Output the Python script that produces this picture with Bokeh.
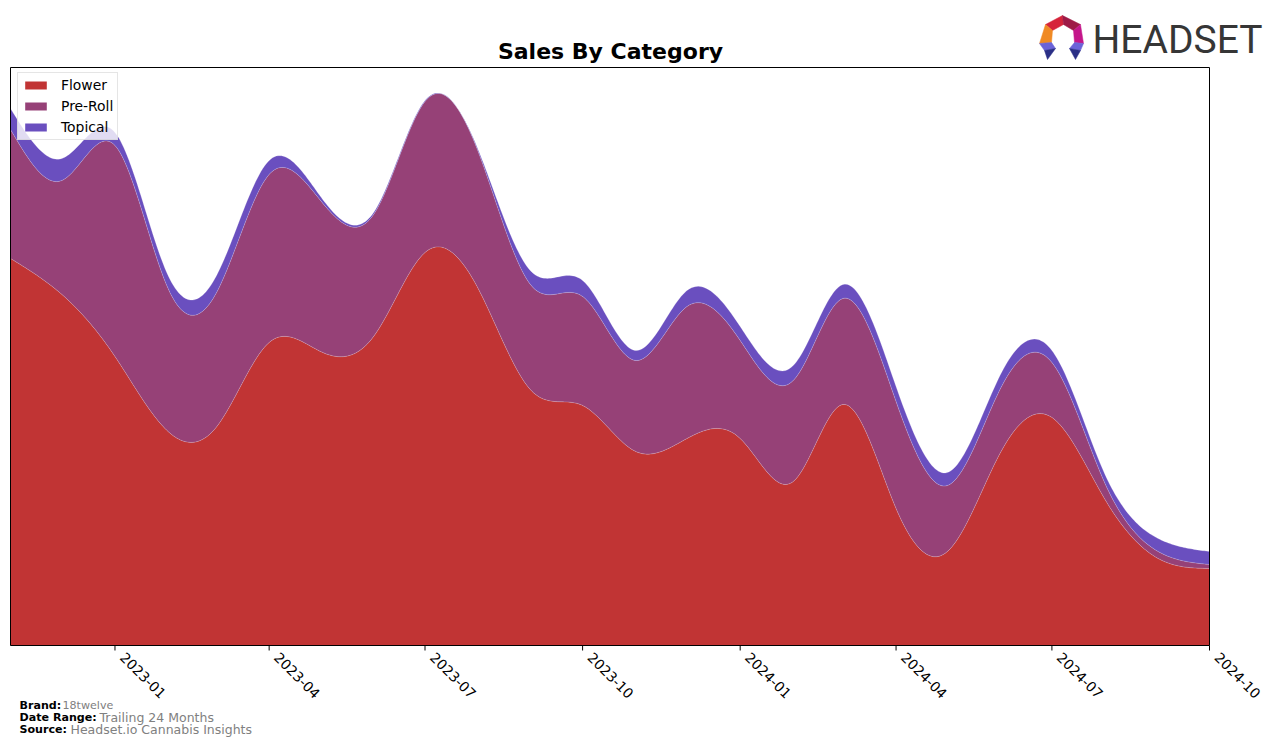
import numpy as np
import pandas as pd
from bokeh.plotting import figure
from bokeh.models import Range1d, Label, ColumnDataSource, BoxAnnotation
from bokeh.embed import file_html
from bokeh.resources import INLINE

# ---------------- data ----------------
months = ["2022-11", "2022-12", "2023-01", "2023-02", "2023-03", "2023-04",
          "2023-05", "2023-06", "2023-07", "2023-08", "2023-09", "2023-10",
          "2023-11", "2023-12", "2024-01", "2024-02", "2024-03", "2024-04",
          "2024-05", "2024-06", "2024-07", "2024-08", "2024-09", "2024-10"]
flower = [387, 351, 289, 214, 218, 303, 294, 309, 393, 357, 255, 240,
          194, 207, 207, 164, 241, 137, 94, 193, 228, 146, 87, 77]
pre_roll = [129, 114, 211, 143, 134, 168, 151, 122, 151, 137, 105, 109,
            91, 132, 98, 101, 106, 107, 66, 64, 55, 16, 7, 4]
topical = [21, 22, 13, 13, 17, 14, 4, 2, 1, 2, 14, 16,
           10, 16, 14, 15, 14, 15, 13, 14, 12, 9, 13, 13]
categories = ["Flower", "Pre-Roll", "Topical"]
colors = ["#c13434", "#964177", "#6a4fbf"]
tick_labels = ["2023-01", "2023-04", "2023-07", "2023-10",
               "2024-01", "2024-04", "2024-07", "2024-10"]
brand = "18twelve"
date_range = "Trailing 24 Months"
source_txt = "Headset.io Cannabis Insights"


def spline(xk, yk, xs):
    """Natural cubic interpolating spline."""
    xk = np.asarray(xk, float)
    yk = np.asarray(yk, float)
    n = len(xk)
    h = np.diff(xk)
    A = np.zeros((n, n))
    b = np.zeros(n)
    A[0, 0] = 1.0
    A[-1, -1] = 1.0
    for i in range(1, n - 1):
        A[i, i - 1] = h[i - 1]
        A[i, i] = 2 * (h[i - 1] + h[i])
        A[i, i + 1] = h[i]
        b[i] = 6 * ((yk[i + 1] - yk[i]) / h[i] - (yk[i] - yk[i - 1]) / h[i - 1])
    M = np.linalg.solve(A, b)
    idx = np.clip(np.searchsorted(xk, xs) - 1, 0, n - 2)
    x0, x1 = xk[idx], xk[idx + 1]
    hh = x1 - x0
    t0, t1 = xs - x0, x1 - xs
    return ((M[idx] * t1 ** 3 + M[idx + 1] * t0 ** 3) / (6 * hh)
            + (yk[idx] / hh - M[idx] * hh / 6) * t1
            + (yk[idx + 1] / hh - M[idx + 1] * hh / 6) * t0)


dates = pd.to_datetime(months)
xd = np.array((dates - dates[0]).days, dtype=float)
xs = np.linspace(0, xd[-1], 700)
series = [flower, pre_roll, topical]
smooth = [np.clip(spline(xd, s, xs), 0, None) for s in series]
data = {"x": xs}
for c, s in zip(categories, smooth):
    data[c] = s
src = ColumnDataSource(data)

X_END = xd[-1]
Y_TOP = 578.0
K = X_END / 1199.0          # data units per pixel along x

# layout helpers: page pixel -> data position (for decorations only)
def sx(px):
    return (px - 10) * K

def sy(py):
    return 645 - py

# ---------------- one figure covering the whole page ----------------
p = figure(width=1276, height=746,
           x_range=Range1d(-10 * K, X_END + 67 * K), y_range=Range1d(-101, 645),
           toolbar_location=None, output_backend="svg",
           x_axis_location=None, y_axis_location=None, min_border=0,
           outline_line_color=None)
p.background_fill_color = "white"
p.border_fill_color = "white"
p.xgrid.visible = False
p.ygrid.visible = False

p.varea_stack(categories, x="x", color=colors, legend_label=categories, source=src)
cum = np.zeros_like(xs)
for s in smooth:
    cum = cum + s
    p.line(xs, cum, line_color="white", line_alpha=0.3, line_width=0.7)

# chart box
p.add_layout(BoxAnnotation(left=0, right=X_END, bottom=0, top=Y_TOP,
                           fill_alpha=0, line_color="black", line_width=1, line_alpha=1))

# x axis: ticks and rotated labels placed at the tick dates
tick_pos = [float((pd.Timestamp(t) - dates[0]).days) for t in tick_labels]
nt = len(tick_pos)
p.segment(x0=tick_pos, y0=[0] * nt, x1=tick_pos, y1=[-5] * nt,
          line_color="black", line_width=1)
p.text(x=tick_pos, y=[0] * nt, text=tick_labels, angle=-np.pi / 4,
       x_offset=11, y_offset=6, text_align="left", text_baseline="top",
       text_font={"value": "DejaVu Sans"}, text_font_size="13.9px", text_color="black")

# legend
lg = p.legend[0]
lg.location = (17, 606)
lg.margin = 0
lg.padding = 4
lg.spacing = 5
lg.label_height = 14
lg.glyph_height = 10
lg.glyph_width = 27
lg.label_standoff = 12
lg.label_text_font = "DejaVu Sans"
lg.label_text_font_size = "13.9px"
lg.label_text_color = "black"
lg.border_line_color = "#cccccc"
lg.background_fill_alpha = 0.8

# title
p.add_layout(Label(x=sx(610), y=sy(51), text="Sales By Category", text_align="center",
                   text_baseline="alphabetic", text_font="DejaVu Sans",
                   text_font_style="bold", text_font_size="22px", text_color="black"))

# logo
p.add_layout(Label(x=sx(1092), y=sy(39), text="HEADSET", text_align="left",
                   text_baseline="alphabetic", text_font="Roboto",
                   text_font_size="39px", text_color="#363636"))
logo_px = [[1045, 1062, 1063, 1052], [1062, 1080, 1073, 1063],
           [1045, 1052, 1051, 1039], [1080, 1083, 1074, 1073],
           [1039, 1051, 1055, 1044], [1044, 1055, 1047],
           [1083, 1074, 1069, 1080], [1080, 1069, 1075]]
logo_py = [[24, 15, 24, 30], [15, 24, 30, 24],
           [24, 30, 42, 43], [24, 43, 42, 30],
           [43, 42, 48, 50], [50, 48, 59],
           [43, 42, 48, 50], [50, 48, 59]]
logo_cols = ["#d6243a", "#9e1a47", "#f08a24", "#c4168a",
             "#6b63d8", "#2a2f86", "#6b63d8", "#2a2f86"]
p.patches([[sx(v) for v in xx] for xx in logo_px],
          [[sy(v) for v in yy] for yy in logo_py],
          fill_color=logo_cols, line_color=logo_cols, line_width=0.5)

# footer
foot = [("Brand:", brand, 62, 705, "11.1px"),
        ("Date Range:", date_range, 99, 717, "12.5px"),
        ("Source:", source_txt, 70, 729, "12.5px")]
for lab, val, xv, yb, fs in foot:
    p.add_layout(Label(x=sx(19), y=sy(yb), text=lab, text_font="DejaVu Sans",
                       text_font_style="bold", text_font_size="11.1px",
                       text_color="black", text_baseline="alphabetic"))
    p.add_layout(Label(x=sx(xv), y=sy(yb), text=val, text_font="DejaVu Sans",
                       text_font_size=fs, text_color="#808080",
                       text_baseline="alphabetic"))

open("out.html", "w").write(file_html(p, INLINE))
